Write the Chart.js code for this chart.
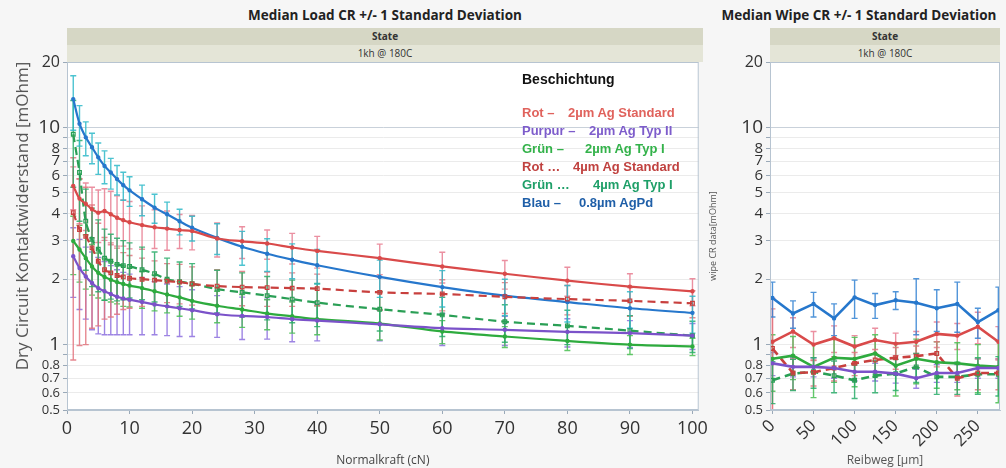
<!DOCTYPE html>
<html>
<head>
<meta charset="utf-8">
<script src="https://cdn.jsdelivr.net/npm/chart.js@4.4.1/dist/chart.umd.min.js"></script>
<style>
  body { margin: 0; width: 1006px; height: 468px; background: #f6f6f6; position: relative; overflow: hidden;
         font-family: "Open Sans", "Noto Sans", sans-serif; }
  .title { position: absolute; top: 6px; font-weight: bold; font-size: 13.5px; color: #222; text-align: center; }
  .band { position: absolute; height: 17px; line-height: 17px; font-size: 10px; color: #333; text-align: center; }
  .band.state { background: #d6d7c5; font-weight: bold; }
  .band.cond { background: #e4e5d7; }
  #load { position: absolute; left: 0; top: 0; }
  #wipe { position: absolute; left: 706px; top: 0; }
  .ytitle { position: absolute; left: -148px; top: 205px; width: 340px; height: 22px; line-height: 22px;
            text-align: center; font-size: 17px; color: #555; transform: rotate(-90deg); white-space: nowrap; }
  .legend { position: absolute; left: 522px; top: 71px; font-family: "Liberation Sans", Arial, sans-serif; font-weight: bold; font-size: 13px; }
  .legend .head { color: #111; font-size: 14px; height: 18px; margin-bottom: 16px; }
  .legend .row { position: relative; height: 18px; }
  .legend .row span { position: absolute; white-space: nowrap; }
</style>
</head>
<body>
<div class="title" style="left:67px;width:636px;">Median Load CR +/- 1 Standard Deviation</div>
<div class="title" style="left:712px;width:294px;">Median Wipe CR +/- 1 Standard Deviation</div>
<div class="band state" style="left:67px;top:28px;width:636px;">State</div>
<div class="band cond" style="left:67px;top:45px;width:636px;">1kh @ 180C</div>
<div class="band state" style="left:770px;top:28px;width:230px;">State</div>
<div class="band cond" style="left:770px;top:45px;width:230px;">1kh @ 180C</div>

<canvas id="load" width="712" height="468"></canvas>
<canvas id="wipe" width="300" height="468"></canvas>
<div class="ytitle">Dry Circuit Kontaktwiderstand [mOhm]</div>
<div class="legend" id="legend"></div>

<script>
// ==============================
// DATA
// ==============================
const normalkraft = [1, 2, 3, 4, 5, 6, 7, 8, 9, 10, 12, 14, 16, 18, 20, 24, 28, 32, 36, 40, 50, 60, 70, 80, 90, 100];
const reibweg = [0, 25, 50, 75, 100, 125, 150, 175, 200, 225, 250, 275];

const yTickValues = [0.5, 0.6, 0.7, 0.8, 0.9, 1, 2, 3, 4, 5, 6, 7, 8, 9, 10, 20];
const yTickHidden = [0.9, 9];
const xTicksLoad = [0, 10, 20, 30, 40, 50, 60, 70, 80, 90, 100];
const xTicksWipe = [0, 50, 100, 150, 200, 250];

// load: median and +/- 1 standard deviation
const loadRot2 = [5.38, 4.7, 4.45, 4.2, 4.05, 4.12, 3.98, 3.84, 3.74, 3.66, 3.55, 3.47, 3.42, 3.37, 3.33, 3.08, 2.99, 2.92, 2.8, 2.7, 2.5, 2.29, 2.12, 1.97, 1.85, 1.76];
const loadRot2Sd = [1.2, 1.1, 1.1, 1.1, 1.1, 1.1, 1.1, 1.0, 0.9, 0.9, 0.8, 0.7, 0.7, 0.6, 0.6, 0.55, 0.5, 0.45, 0.45, 0.45, 0.4, 0.37, 0.32, 0.3, 0.27, 0.25];
const loadPurpur2 = [2.55, 2.25, 2.06, 1.92, 1.82, 1.76, 1.71, 1.66, 1.63, 1.61, 1.57, 1.53, 1.5, 1.47, 1.44, 1.38, 1.355, 1.34, 1.31, 1.29, 1.24, 1.19, 1.17, 1.145, 1.13, 1.1];
const loadPurpur2Sd = [0.9, 0.8, 0.75, 0.75, 0.7, 0.65, 0.6, 0.55, 0.52, 0.5, 0.46, 0.42, 0.4, 0.38, 0.35, 0.3, 0.3, 0.28, 0.28, 0.25, 0.2, 0.2, 0.18, 0.17, 0.16, 0.15];
const loadGruen2 = [3.0, 2.74, 2.5, 2.29, 2.14, 2.05, 1.99, 1.94, 1.9, 1.87, 1.82, 1.76, 1.7, 1.65, 1.59, 1.51, 1.45, 1.39, 1.35, 1.31, 1.25, 1.15, 1.09, 1.04, 1.0, 0.98];
const loadGruen2Sd = [0.9, 0.8, 0.7, 0.6, 0.5, 0.45, 0.42, 0.4, 0.4, 0.38, 0.35, 0.33, 0.3, 0.3, 0.28, 0.25, 0.25, 0.22, 0.22, 0.2, 0.2, 0.14, 0.12, 0.1, 0.1, 0.09];
const loadRot4 = [4.05, 3.39, 3.15, 2.79, 2.42, 2.21, 2.14, 2.08, 2.05, 2.02, 2.0, 1.98, 1.96, 1.94, 1.9, 1.86, 1.84, 1.83, 1.82, 1.81, 1.74, 1.71, 1.66, 1.62, 1.59, 1.55];
const loadRot4Sd = [3.2, 2.4, 2.15, 1.6, 1.2, 0.9, 0.8, 0.7, 0.6, 0.55, 0.5, 0.45, 0.4, 0.4, 0.38, 0.35, 0.33, 0.33, 0.32, 0.3, 0.3, 0.28, 0.27, 0.25, 0.24, 0.22];
const loadGruen4 = [9.3, 6.2, 3.7, 3.05, 2.75, 2.5, 2.42, 2.34, 2.31, 2.29, 2.21, 2.12, 2.0, 1.95, 1.91, 1.8, 1.74, 1.68, 1.62, 1.56, 1.455, 1.37, 1.275, 1.22, 1.16, 1.1];
const loadGruen4Sd = [4.0, 2.5, 1.5, 1.2, 1.0, 0.9, 0.8, 0.75, 0.7, 0.65, 0.6, 0.55, 0.5, 0.45, 0.45, 0.4, 0.4, 0.38, 0.36, 0.35, 0.3, 0.28, 0.25, 0.22, 0.2, 0.18];
const loadBlau = [13.5, 10.4, 9.0, 8.1, 7.28, 6.65, 6.2, 5.78, 5.42, 5.13, 4.67, 4.27, 3.98, 3.7, 3.45, 3.1, 2.82, 2.62, 2.46, 2.32, 2.05, 1.84, 1.68, 1.57, 1.47, 1.4];
const loadBlauSd = [3.8, 2.2, 1.6, 1.3, 1.2, 1.15, 1.0, 0.9, 0.8, 0.8, 0.75, 0.65, 0.55, 0.5, 0.45, 0.5, 0.5, 0.45, 0.45, 0.42, 0.4, 0.35, 0.32, 0.3, 0.28, 0.27];

// wipe: median and +/- 1 standard deviation
const wipeRot2 = [1.03, 1.15, 1.0, 1.07, 0.98, 1.05, 1.01, 1.03, 1.12, 1.1, 1.21, 1.03];
const wipeRot2Sd = [0.6, 0.18, 0.15, 0.15, 0.12, 0.14, 0.12, 0.12, 0.15, 0.15, 0.2, 0.18];
const wipePurpur2 = [0.82, 0.79, 0.79, 0.78, 0.75, 0.75, 0.735, 0.7, 0.74, 0.74, 0.78, 0.78];
const wipePurpur2Sd = [0.1, 0.08, 0.08, 0.08, 0.07, 0.07, 0.07, 0.07, 0.07, 0.07, 0.08, 0.08];
const wipeGruen2 = [0.86, 0.89, 0.79, 0.87, 0.86, 0.91, 0.8, 0.86, 0.83, 0.82, 0.8, 0.79];
const wipeGruen2Sd = [0.25, 0.2, 0.22, 0.2, 0.22, 0.2, 0.22, 0.2, 0.2, 0.2, 0.2, 0.25];
const wipeRot4 = [0.96, 0.74, 0.745, 0.78, 0.82, 0.85, 0.87, 0.885, 0.91, 0.7, 0.74, 0.74];
const wipeRot4Sd = [0.5, 0.12, 0.1, 0.1, 0.1, 0.1, 0.1, 0.1, 0.12, 0.12, 0.12, 0.12];
const wipeGruen4 = [0.685, 0.735, 0.75, 0.72, 0.685, 0.72, 0.735, 0.79, 0.71, 0.71, 0.73, 0.73];
const wipeGruen4Sd = [0.15, 0.12, 0.12, 0.12, 0.12, 0.12, 0.12, 0.12, 0.12, 0.12, 0.14, 0.15];
const wipeBlau = [1.64, 1.39, 1.54, 1.32, 1.65, 1.52, 1.6, 1.56, 1.47, 1.54, 1.27, 1.44];
const wipeBlauSd = [0.3, 0.2, 0.2, 0.22, 0.33, 0.2, 0.15, 0.45, 0.32, 0.4, 0.2, 0.4];

// legend texts
const legendColor = ["Rot \u2013", "Purpur \u2013", "Gr\u00fcn \u2013", "Rot \u2026", "Gr\u00fcn \u2026", "Blau \u2013"];
const legendCoating = ["2\u00b5m Ag Standard", "2\u00b5m Ag Typ II", "2\u00b5m Ag Typ I", "4\u00b5m Ag Standard", "4\u00b5m Ag Typ I", "0.8\u00b5m AgPd"];

// ==============================
// STYLES
// ==============================
const series = [
  { line: "#d94a4a", bar: "rgba(232,125,145,0.85)", text: "#e0625c", dash: [], marker: "circle", textX: 46 },
  { line: "#7b52c9", bar: "rgba(140,110,222,0.85)", text: "#7d5ccb", dash: [], marker: "circle", textX: 67 },
  { line: "#2eab3e", bar: "rgba(70,190,80,0.85)", text: "#33b24a", dash: [], marker: "circle", textX: 63 },
  { line: "#c8403e", bar: "rgba(226,115,125,0.85)", text: "#c0413f", dash: [8, 5], marker: "rect", textX: 51 },
  { line: "#2a9f55", bar: "rgba(40,172,105,0.85)", text: "#1e9f68", dash: [8, 5], marker: "rect", textX: 71 },
  { line: "#2677cc", bar: "rgba(45,185,200,0.85)", text: "#1f5fa8", dash: [], marker: "circle", textX: 57 }
];

const fontFam = "'Open Sans', 'Noto Sans', sans-serif";

function buildSets(xs, list, sds, lw, wipe) {
  return list.map((vals, k) => ({
    data: vals.map((v, i) => ({ x: xs[i], y: v })),
    sd: sds[k],
    barColor: wipe && k === 5 ? "rgba(50,130,210,0.85)" : series[k].bar,
    borderColor: series[k].line,
    backgroundColor: series[k].marker === "rect" ? "rgba(255,255,255,0)" : series[k].line,
    borderWidth: lw,
    borderDash: series[k].dash,
    pointStyle: series[k].marker,
    pointRadius: series[k].marker === "rect" ? 2.6 : 1.6,
    pointBorderWidth: 1.2,
    tension: wipe ? 0 : 0.3,
    fill: false
  }));
}

// ==============================
// PLUGINS
// ==============================
const plotFrame = {
  id: "plotFrame",
  beforeDraw(chart) {
    const a = chart.chartArea, ctx = chart.ctx;
    ctx.save();
    ctx.fillStyle = "#ffffff";
    ctx.fillRect(a.left, a.top, a.width, a.height);
    ctx.restore();
  },
  afterDraw(chart) {
    const a = chart.chartArea, ctx = chart.ctx;
    ctx.save();
    ctx.strokeStyle = "#b7c4d1";
    ctx.lineWidth = 1;
    ctx.strokeRect(a.left + 0.5, a.top + 0.5, a.width - 1, a.height - 1);
    ctx.restore();
  }
};

const errorBars = {
  id: "errorBars",
  beforeDatasetsDraw(chart) {
    const { ctx, chartArea: a, scales: { x, y } } = chart;
    ctx.save();
    ctx.beginPath();
    ctx.rect(a.left, a.top, a.width, a.height);
    ctx.clip();
    chart.data.datasets.forEach(ds => {
      ctx.strokeStyle = ds.barColor;
      ctx.lineWidth = 1.4;
      ds.data.forEach((p, i) => {
        const px = x.getPixelForValue(p.x);
        const lo = p.y - ds.sd[i], hi = p.y + ds.sd[i];
        const yHi = y.getPixelForValue(hi);
        const yLo = lo > 0 ? y.getPixelForValue(lo) : a.bottom + 5;
        ctx.beginPath();
        ctx.moveTo(px, yHi); ctx.lineTo(px, yLo);
        ctx.moveTo(px - 3, yHi); ctx.lineTo(px + 3, yHi);
        if (lo > 0) { ctx.moveTo(px - 3, yLo); ctx.lineTo(px + 3, yLo); }
        ctx.stroke();
      });
    });
    ctx.restore();
  }
};

// ==============================
// SCALES
// ==============================
function yScale(titleText, titleSize, width) {
  return {
    type: "logarithmic",
    min: 0.5,
    max: 20,
    afterBuildTicks: s => { s.ticks = yTickValues.map(v => ({ value: v })); },
    afterFit: s => { s.width = width; },
    ticks: {
      autoSkip: false,
      padding: 3,
      color: "#333",
      callback: v => (yTickHidden.includes(v) ? "" : String(v)),
      font: c => {
        const v = c.tick ? c.tick.value : 1;
        if (v === 10 || v === 1) return { family: fontFam, size: 19 };
        if (v === 20) return { family: fontFam, size: 16 };
        if (v >= 2) return { family: fontFam, size: 15 };
        return { family: fontFam, size: 13 };
      }
    },
    grid: {
      color: c => (c.tick && c.tick.value === 10 ? "#c9d1da" : "#ebebeb"),
      tickColor: "#9aa9b8",
      tickLength: 4
    },
    border: { color: "#b7c4d1" },
    title: { display: titleText !== "", text: titleText, color: "#555", font: { family: fontFam, size: titleSize }, padding: 2 }
  };
}

// ==============================
// LOAD CHART
// ==============================
new Chart(document.getElementById("load"), {
  type: "line",
  data: {
    datasets: buildSets(normalkraft,
      [loadRot2, loadPurpur2, loadGruen2, loadRot4, loadGruen4, loadBlau],
      [loadRot2Sd, loadPurpur2Sd, loadGruen2Sd, loadRot4Sd, loadGruen4Sd, loadBlauSd], 2.2, false)
  },
  options: {
    responsive: false,
    animation: false,
    layout: { padding: { top: 62, right: 9, left: 0, bottom: 0 } },
    plugins: { legend: { display: false }, tooltip: { enabled: false } },
    scales: {
      x: {
        type: "linear",
        min: 0,
        max: 101,
        afterBuildTicks: s => { s.ticks = xTicksLoad.map(v => ({ value: v })); },
        afterFit: s => { s.height = 58; },
        ticks: { color: "#333", padding: 4, font: { family: fontFam, size: 18 }, maxRotation: 0 },
        grid: { drawOnChartArea: false, tickColor: "#9aa9b8", tickLength: 4 },
        border: { color: "#b7c4d1" },
        title: { display: true, text: "Normalkraft (cN)", color: "#444", font: { family: fontFam, size: 12 }, padding: 0 }
      },
      y: yScale("", 16, 67)
    }
  },
  plugins: [plotFrame, errorBars]
});

// ==============================
// WIPE CHART
// ==============================
new Chart(document.getElementById("wipe"), {
  type: "line",
  data: {
    datasets: buildSets(reibweg,
      [wipeRot2, wipePurpur2, wipeGruen2, wipeRot4, wipeGruen4, wipeBlau],
      [wipeRot2Sd, wipePurpur2Sd, wipeGruen2Sd, wipeRot4Sd, wipeGruen4Sd, wipeBlauSd], 2.6, true)
  },
  options: {
    responsive: false,
    animation: false,
    layout: { padding: { top: 62, right: 6, left: 0, bottom: 0 } },
    plugins: { legend: { display: false }, tooltip: { enabled: false } },
    scales: {
      x: {
        type: "linear",
        min: -3,
        max: 277,
        afterBuildTicks: s => { s.ticks = xTicksWipe.map(v => ({ value: v })); },
        afterFit: s => { s.height = 58; },
        ticks: { color: "#333", padding: 2, font: { family: fontFam, size: 17 }, minRotation: 45, maxRotation: 45 },
        grid: { drawOnChartArea: false, tickColor: "#9aa9b8", tickLength: 4 },
        border: { color: "#b7c4d1" },
        title: { display: true, text: "Reibweg [\u00b5m]", color: "#555", font: { family: fontFam, size: 12 }, padding: 0 }
      },
      y: yScale("wipe CR data[mOhm]", 9, 64)
    }
  },
  plugins: [plotFrame, errorBars]
});

// ==============================
// LEGEND BOX
// ==============================
const legend = document.getElementById("legend");
legend.innerHTML = '<div class="head">Beschichtung</div>';
legendColor.forEach((name, i) => {
  const row = document.createElement("div");
  row.className = "row";
  row.style.color = series[i].text;
  row.innerHTML = `<span style="left:0">${name}</span><span style="left:${series[i].textX}px">${legendCoating[i]}</span>`;
  legend.appendChild(row);
});
</script>
</body>
</html>
